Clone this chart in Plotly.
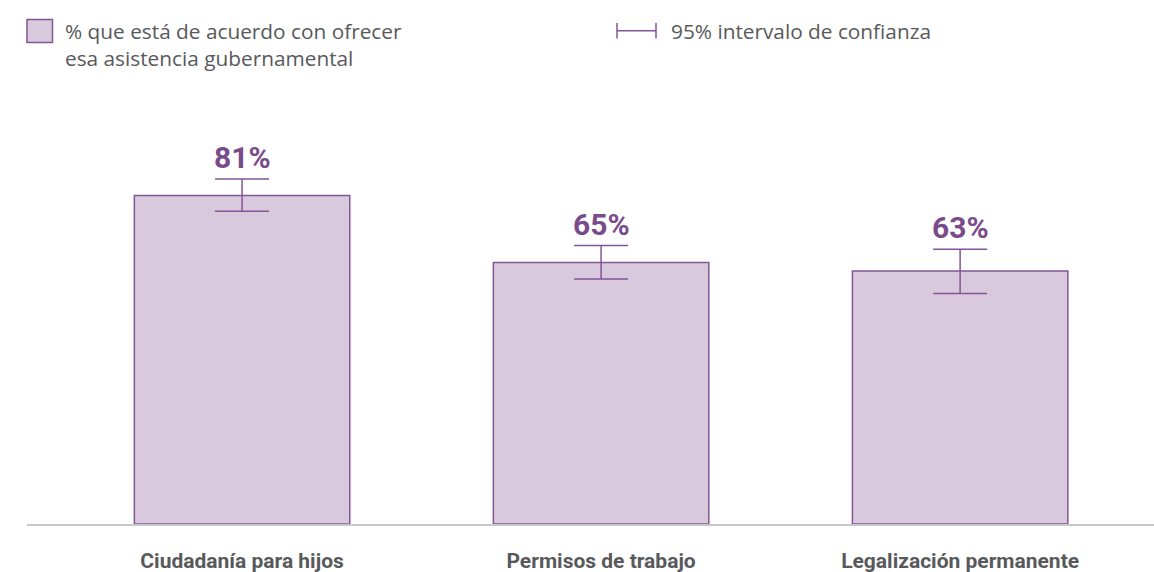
import plotly.graph_objects as go

categories = ["Ciudadanía para hijos", "Permisos de trabajo", "Legalización permanente"]
values = [81.5, 64.9, 62.8]
labels = ["81%", "65%", "63%"]
ci_plus = [4.1, 4.2, 5.4]
ci_minus = [3.9, 4.1, 5.6]
legend_bar = "% que está de acuerdo con ofrecer<br>esa asistencia gubernamental"
legend_ci = "95% intervalo de confianza"

W, H = 1154, 572
ML, MR, MT, MB = 27, 0, 100, 48
PW, PH = W - ML - MR, H - MT - MB

def px(x):
    return (x - ML) / PW

def py(y):
    return (H - MB - y) / PH

FILL = "#d9c9dc"
EDGE = "#835596"
PURPLE = "#7a4b8b"
GRAY = "#58595b"

xs = list(range(len(categories)))

fig = go.Figure()
fig.add_trace(go.Bar(
    x=xs, y=values, width=0.6,
    marker=dict(color=FILL, line=dict(color=EDGE, width=1.5)),
    error_y=dict(type="data", symmetric=False, array=ci_plus, arrayminus=ci_minus,
                 color=EDGE, thickness=1.5, width=27),
    showlegend=False, hoverinfo="skip",
))

for x, v, e, t in zip(xs, values, ci_plus, labels):
    fig.add_annotation(x=x, y=v + e, text=f"<b>{t}</b>", showarrow=False,
                       xanchor="center", yanchor="bottom", yshift=2,
                       font=dict(family="Roboto", size=30, color=PURPLE))

# legend
fig.add_shape(type="rect", xref="paper", yref="paper",
              x0=px(27), x1=px(52.5), y0=py(42.5), y1=py(19.5),
              fillcolor=FILL, line=dict(color=EDGE, width=1.5))
fig.add_annotation(xref="paper", yref="paper", x=px(63), y=py(44.5),
                   text=legend_bar, showarrow=False, xanchor="left", yanchor="middle",
                   align="left", font=dict(family="Open Sans", size=20.8, color=GRAY))
fig.add_shape(type="line", xref="paper", yref="paper",
              x0=px(617), x1=px(656), y0=py(30.7), y1=py(30.7),
              line=dict(color=EDGE, width=1.5))
for xx in (617, 656):
    fig.add_shape(type="line", xref="paper", yref="paper",
                  x0=px(xx), x1=px(xx), y0=py(23), y1=py(38.5),
                  line=dict(color=EDGE, width=1.5))
fig.add_annotation(xref="paper", yref="paper", x=px(669), y=py(31),
                   text=legend_ci, showarrow=False, xanchor="left", yanchor="middle",
                   align="left", font=dict(family="Open Sans", size=20.8, color=GRAY))

fig.update_layout(
    width=W, height=H,
    margin=dict(l=ML, r=MR, t=MT, b=MB, pad=0, autoexpand=False),
    paper_bgcolor="white", plot_bgcolor="white",
    xaxis=dict(range=[-0.599, 2.540], tickvals=xs,
               ticktext=[f"<b>{c}</b>" for c in categories],
               showgrid=False, zeroline=False, showline=True,
               linecolor="#c8c8c8", linewidth=1.5, ticks="",
               ticklabelstandoff=17, automargin=False,
               tickfont=dict(family="Roboto", size=21, color=GRAY)),
    yaxis=dict(range=[0, PH / 4.03], visible=False, showgrid=False, zeroline=False,
               automargin=False),
)

fig.write_html("out.html", config={"displayModeBar": False},
               post_script="document.body.style.margin='0';document.body.style.padding='0';")
